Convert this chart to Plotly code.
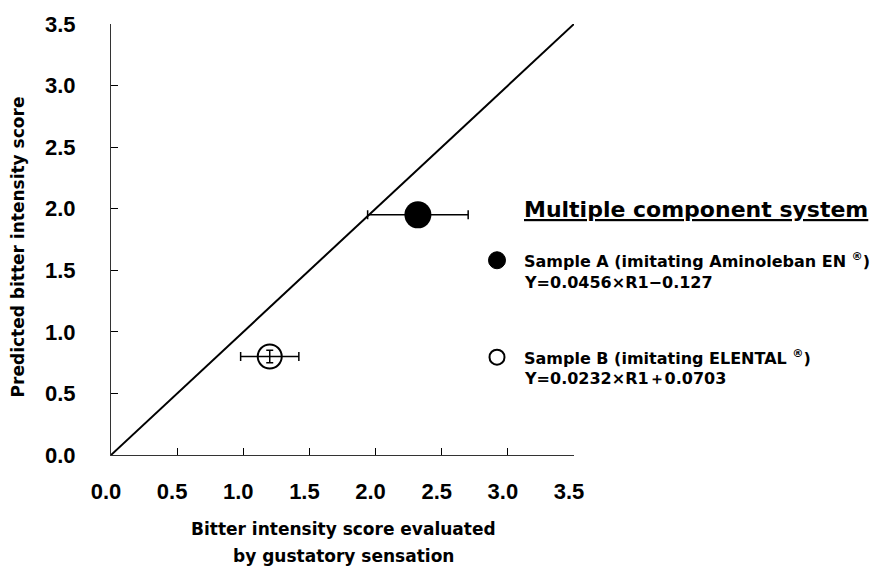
import plotly.graph_objects as go

# ---- data ----
sample_names = ["Sample A", "Sample B"]
gustatory_score = [2.32, 1.20]        # x: bitter intensity score by gustatory sensation
predicted_score = [1.95, 0.80]        # y: predicted bitter intensity score
gustatory_err = [0.38, 0.22]          # x error (SD)
predicted_err = [0.0, 0.05]           # y error (SD)
identity_line = [0.0, 3.5]
tick_vals = [0.0, 0.5, 1.0, 1.5, 2.0, 2.5, 3.0, 3.5]
tick_text = ["0.0", "0.5", "1.0", "1.5", "2.0", "2.5", "3.0", "3.5"]

legend_title = "Multiple component system"
legend_a = ["Sample A (imitating Aminoleban EN <sup>®</sup>)", "Y=0.0456\u00d7R1\u22120.127"]
legend_b = ["Sample B (imitating ELENTAL <sup>®</sup>)", "Y=0.0232\u00d7R1\uff0b0.0703"]

TICK_FONT = dict(family="Liberation Sans, Arial, sans-serif", size=22, color="black", weight="bold")
TEXT_FONT = "DejaVu Sans, sans-serif"

fig = go.Figure()

# identity line
fig.add_trace(go.Scatter(
    x=identity_line, y=identity_line, mode="lines",
    line=dict(color="black", width=2), showlegend=False, hoverinfo="skip"))

# Sample A (filled)
fig.add_trace(go.Scatter(
    x=[gustatory_score[0]], y=[predicted_score[0]], mode="markers",
    marker=dict(symbol="circle", size=27, color="black"),
    error_x=dict(type="data", array=[gustatory_err[0]], color="black", thickness=1.5, width=4.5),
    showlegend=False, name=sample_names[0]))

# Sample B (open)
fig.add_trace(go.Scatter(
    x=[gustatory_score[1]], y=[predicted_score[1]], mode="markers",
    marker=dict(symbol="circle-open", size=24, color="black", line=dict(width=2, color="black")),
    error_x=dict(type="data", array=[gustatory_err[1]], color="black", thickness=1.5, width=4.5),
    error_y=dict(type="data", array=[predicted_err[1]], color="black", thickness=1.5, width=3.5),
    showlegend=False, name=sample_names[1]))

# plot area in pixels: x 111..574, y 19..455
L, R, T, B = 111, 875 - 574, 19, 566 - 455
PW, PH = 875 - L - R, 566 - T - B


def px(xp):
    return (xp - L) / PW


def py(yp):
    return (566 - B - yp) / PH


axis_common = dict(
    range=[0, 3.5], tickmode="array", tickvals=tick_vals, ticktext=tick_text,
    ticks="inside", ticklen=7, tickwidth=1, tickcolor="black",
    showline=True, linecolor="#333", linewidth=1, showgrid=False, zeroline=False,
    tickfont=TICK_FONT, fixedrange=True,
)

fig.update_layout(
    width=875, height=566,
    margin=dict(l=L, r=R, t=T, b=B, pad=0),
    paper_bgcolor="white", plot_bgcolor="white",
    xaxis=dict(**axis_common, ticklabelstandoff=17, ticklabelshift=-5),
    yaxis=dict(**axis_common, ticklabelstandoff=30),
    showlegend=False,
)

annotations = [
    dict(text="Predicted bitter intensity score", x=px(18), y=py(245), xref="paper", yref="paper",
         textangle=-90, xanchor="center", yanchor="middle", showarrow=False,
         font=dict(family=TEXT_FONT, size=17, color="black", weight="bold")),
    dict(text="Bitter intensity score evaluated", x=px(343), y=py(530), xref="paper", yref="paper",
         xanchor="center", yanchor="middle", showarrow=False,
         font=dict(family=TEXT_FONT, size=17, color="black", weight="bold")),
    dict(text="by gustatory sensation", x=px(343), y=py(557), xref="paper", yref="paper",
         xanchor="center", yanchor="middle", showarrow=False,
         font=dict(family=TEXT_FONT, size=17, color="black", weight="bold")),
    dict(text="<u>" + legend_title + "</u>", x=px(522), y=py(207), xref="paper", yref="paper",
         xanchor="left", yanchor="middle", showarrow=False,
         font=dict(family=TEXT_FONT, size=22, color="black", weight="bold")),
]
for lines, ys in ((legend_a, (258, 280)), (legend_b, (356, 378))):
    for txt, yy in zip(lines, ys):
        annotations.append(dict(text=txt, x=px(522), y=py(yy), xref="paper", yref="paper",
                                xanchor="left", yanchor="middle", showarrow=False,
                                font=dict(family=TEXT_FONT, size=16, color="black", weight="bold")))
fig.update_layout(annotations=annotations)

# legend symbols
fig.add_shape(type="circle", xref="paper", yref="paper", xsizemode="pixel", ysizemode="pixel",
              xanchor=px(497), yanchor=py(258), x0=-8.5, x1=8.5, y0=-8.5, y1=8.5,
              fillcolor="black", line=dict(color="black", width=1))
fig.add_shape(type="circle", xref="paper", yref="paper", xsizemode="pixel", ysizemode="pixel",
              xanchor=px(497), yanchor=py(356), x0=-7.5, x1=7.5, y0=-7.5, y1=7.5,
              fillcolor="rgba(0,0,0,0)", line=dict(color="black", width=2))

fig.write_html("out.html", config={"displayModeBar": False},
               post_script="document.body.style.margin='0';")
